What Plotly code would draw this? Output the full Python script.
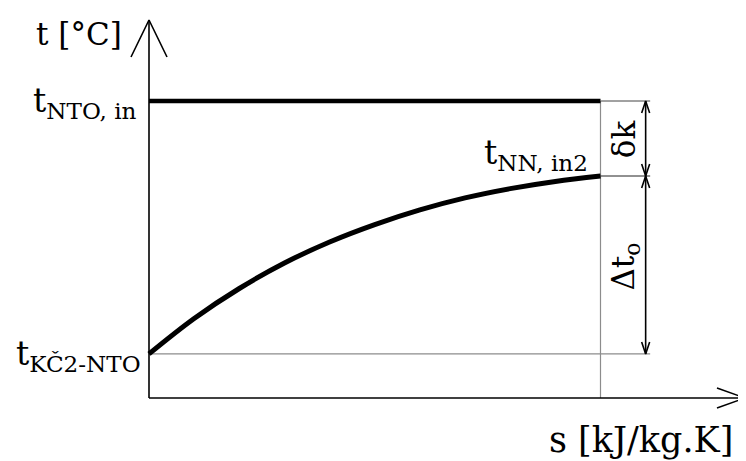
import plotly.graph_objects as go

# ---- data ----
s_curve = [0, 1, 2, 3, 4, 5, 6, 7, 8, 9, 10]
t_curve = [14.7, 26.5, 36.5, 45.0, 52.0, 57.8, 62.7, 66.7, 69.8, 72.2, 74.0]
t_NTO_in = 99.0
t_NN_in2 = 74.0
t_KC2_NTO = 14.7
s_end = 10.0
s_axis_max = 13.2
t_axis_max = 126.0
s_dim = 11.0
s_ext = 11.1

# pixel scale helpers (page has an 8px body margin, so the figure is 8px smaller)
W, H = 738, 453
X0PX, Y0PX = 141, 390
PXS = 45.15   # px per s unit
PXT = 3.0     # px per t unit
x_range = [-X0PX / PXS, (W - X0PX) / PXS]
y_range = [-(H - Y0PX) / PXT, Y0PX / PXT]

def dx(px):
    return px / PXS

def dy(px):
    return px / PXT

fig = go.Figure()

def seg(xs, ys, color="black", width=1.5):
    fig.add_trace(go.Scatter(x=xs, y=ys, mode="lines",
                             line=dict(color=color, width=width),
                             hoverinfo="skip", showlegend=False))

# guide lines
seg([s_end, s_end], [0, t_NTO_in], color="#8c8c8c", width=1.2)
seg([0, s_ext], [t_KC2_NTO, t_KC2_NTO], color="#8c8c8c", width=1.2)
seg([s_end, s_ext], [t_NTO_in, t_NTO_in], color="#444444", width=1)
seg([s_end, s_ext], [t_NN_in2, t_NN_in2], color="#222222", width=1)

# axes
seg([0, 0], [0, t_axis_max], width=1.6)
seg([0, s_axis_max], [0, 0], width=1.6)
# axis arrow heads (open V)
seg([-dx(18), 0, dx(18)], [t_axis_max - dy(37), t_axis_max, t_axis_max - dy(37)], width=1.6)
seg([s_axis_max - dx(28), s_axis_max, s_axis_max - dx(28)], [dy(10), 0, -dy(10)], width=1.6)

# dimension line with arrows
seg([s_dim, s_dim], [t_KC2_NTO, t_NTO_in], width=1.6)
aw, al = dx(4), dy(12)
seg([s_dim - aw, s_dim, s_dim + aw], [t_NTO_in - al, t_NTO_in, t_NTO_in - al], width=1.6)
seg([s_dim - aw, s_dim, s_dim + aw], [t_NN_in2 + al, t_NN_in2, t_NN_in2 + al], width=1.6)
seg([s_dim - aw, s_dim, s_dim + aw], [t_NN_in2 - al, t_NN_in2, t_NN_in2 - al], width=1.6)
seg([s_dim - aw, s_dim, s_dim + aw], [t_KC2_NTO + al, t_KC2_NTO, t_KC2_NTO + al], width=1.6)

# main lines
seg([0, s_end], [t_NTO_in, t_NTO_in], width=4.5)
fig.add_trace(go.Scatter(x=s_curve, y=t_curve, mode="lines",
                         line=dict(color="black", width=5, shape="spline", smoothing=1.0),
                         hoverinfo="skip", showlegend=False))

FONT = dict(family="DejaVu Serif", size=30, color="black")

def ann(x, y, text, xanchor="center", yanchor="middle", xshift=0, yshift=0, angle=0, size=30):
    fig.add_annotation(x=x, y=y, xref="x", yref="y", text=text, showarrow=False,
                       xanchor=xanchor, yanchor=yanchor, xshift=xshift, yshift=yshift,
                       textangle=angle, font=dict(FONT, size=size))

ann(0, t_axis_max, "t [°C]", xanchor="right", xshift=-25, yshift=-14, size=31)
ann(0, t_NTO_in, "t<sub>NTO, in</sub>", xanchor="right", xshift=-10, yshift=-1, size=33)
ann(s_end, t_NN_in2, "t<sub>NN, in2</sub>", xanchor="right", yanchor="bottom", xshift=-11, yshift=-2, size=33)
ann(0, t_KC2_NTO, "t<sub>KČ2-NTO</sub>", xanchor="right", xshift=-6, yshift=-2, size=33)
ann(s_axis_max, 0, "s [kJ/kg.K]", xanchor="right", yanchor="top", xshift=-10, yshift=-20, size=35)
ann(s_dim, (t_NTO_in + t_NN_in2) / 2, "δk", xshift=-22, yshift=-1, angle=-90, size=31)
ann(s_dim, (t_NN_in2 + t_KC2_NTO) / 2, "Δt<sub>o</sub>", xshift=-20, yshift=-2, angle=-90, size=31)

fig.update_layout(
    width=W, height=H,
    margin=dict(l=0, r=0, t=0, b=0),
    paper_bgcolor="white", plot_bgcolor="white",
    xaxis=dict(range=x_range, visible=False, fixedrange=True),
    yaxis=dict(range=y_range, visible=False, fixedrange=True),
    showlegend=False,
)

fig.write_html("out.html")
